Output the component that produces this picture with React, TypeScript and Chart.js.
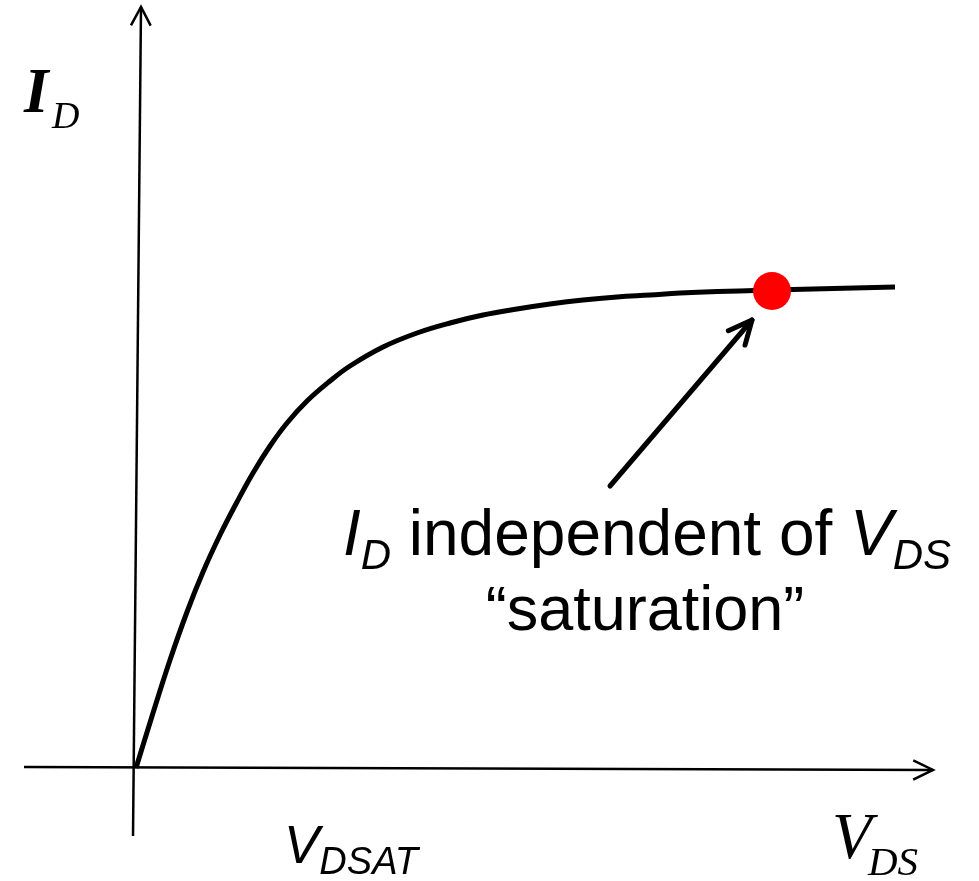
import React, { useEffect, useRef } from "react";
import { Chart, registerables } from "chart.js";

Chart.register(...registerables);

// Curve I_D(V_DS) (arbitrary units, origin at the axes crossing)
const vdsValues = [0, 0.17, 0.34, 0.51, 0.67, 0.84, 1.01, 1.17, 1.34, 1.51, 1.71, 1.94, 2.14, 2.47, 2.81, 3.14, 3.47, 3.81, 4.14, 4.47, 4.81, 5.14, 5.44, 6.36, 7.59];
const idValues = [0, 0.55, 1.08, 1.56, 1.96, 2.33, 2.66, 2.95, 3.22, 3.45, 3.67, 3.87, 4.02, 4.21, 4.35, 4.45, 4.53, 4.59, 4.64, 4.68, 4.71, 4.73, 4.75, 4.78, 4.81];

// Highlighted saturation point
const satVds = [6.36];
const satId = [4.77];

// Annotation arrow (from, to) in data units
const arrowVds = [4.74, 6.16];
const arrowId = [2.82, 4.48];

// Axis line ends in data units
const xAxisVds = [-1.12, 7.97];
const xAxisId = [0.01, -0.02];
const yAxisVds = [-0.03, 0.05];
const yAxisId = [-0.68, 7.61];

// Visible ranges
const vdsRange = [-1.36, 8.43];
const idRange = [-1.13, 7.68];

// Texts
const yLabel = ["I", "D"];
const xLabel = ["V", "DS"];
const satLabel = ["V", "DSAT"];
const noteLine1 = ["I", "D", " independent of ", "V", "DS"];
const noteLine2 = ["\u201Csaturation\u201D"];

const SANS = "'Liberation Sans', Arial, sans-serif";
const SERIF = "'Liberation Serif', 'Times New Roman', serif";

type Run = { t: string; f: string; dy?: number };

function runsWidth(ctx: CanvasRenderingContext2D, runs: Run[]) {
  let w = 0;
  for (const r of runs) {
    ctx.font = r.f;
    w += ctx.measureText(r.t).width;
  }
  return w;
}

function drawRuns(ctx: CanvasRenderingContext2D, runs: Run[], x: number, y: number) {
  let cx = x;
  for (const r of runs) {
    ctx.font = r.f;
    ctx.fillText(r.t, cx, y + (r.dy || 0));
    cx += ctx.measureText(r.t).width;
  }
}

function chevron(ctx: CanvasRenderingContext2D, tx: number, ty: number, fx: number, fy: number, len: number, angDeg: number) {
  const a = Math.atan2(fy - ty, fx - tx);
  const d = (angDeg * Math.PI) / 180;
  ctx.beginPath();
  ctx.moveTo(tx + len * Math.cos(a + d), ty + len * Math.sin(a + d));
  ctx.lineTo(tx, ty);
  ctx.lineTo(tx + len * Math.cos(a - d), ty + len * Math.sin(a - d));
  ctx.stroke();
}

const decorPlugin = {
  id: "decor",
  beforeDatasetsDraw(chart: any) {
    const ctx: CanvasRenderingContext2D = chart.ctx;
    const xs = chart.scales.x;
    const ys = chart.scales.y;
    ctx.save();
    ctx.strokeStyle = "#000";
    ctx.lineWidth = 2.5;
    ctx.lineCap = "butt";
    ctx.lineJoin = "miter";
    // x axis
    const x0 = xs.getPixelForValue(xAxisVds[0]);
    const y0 = ys.getPixelForValue(xAxisId[0]);
    const x1 = xs.getPixelForValue(xAxisVds[1]);
    const y1 = ys.getPixelForValue(xAxisId[1]);
    ctx.beginPath();
    ctx.moveTo(x0, y0);
    ctx.lineTo(x1, y1);
    ctx.stroke();
    chevron(ctx, x1, y1, x0, y0, 22, 26);
    // y axis
    const yx0 = xs.getPixelForValue(yAxisVds[0]);
    const yy0 = ys.getPixelForValue(yAxisId[0]);
    const yx1 = xs.getPixelForValue(yAxisVds[1]);
    const yy1 = ys.getPixelForValue(yAxisId[1]);
    ctx.beginPath();
    ctx.moveTo(yx0, yy0);
    ctx.lineTo(yx1, yy1);
    ctx.stroke();
    chevron(ctx, yx1, yy1, yx0, yy0, 21, 28);
    ctx.restore();
  },
  afterDatasetsDraw(chart: any) {
    const ctx: CanvasRenderingContext2D = chart.ctx;
    const xs = chart.scales.x;
    const ys = chart.scales.y;
    ctx.save();
    // annotation arrow
    const ax0 = xs.getPixelForValue(arrowVds[0]);
    const ay0 = ys.getPixelForValue(arrowId[0]);
    const ax1 = xs.getPixelForValue(arrowVds[1]);
    const ay1 = ys.getPixelForValue(arrowId[1]);
    ctx.strokeStyle = "#000";
    ctx.lineWidth = 5;
    ctx.lineCap = "round";
    ctx.lineJoin = "round";
    ctx.beginPath();
    ctx.moveTo(ax0, ay0);
    ctx.lineTo(ax1, ay1);
    ctx.stroke();
    chevron(ctx, ax1, ay1, ax0, ay0, 26, 25);

    ctx.fillStyle = "#000";
    ctx.textBaseline = "alphabetic";
    ctx.textAlign = "left";

    // I_D axis label (serif)
    ctx.font = `italic bold 63px ${SERIF}`;
    ctx.fillText(yLabel[0], 24, 112);
    ctx.font = `italic 38px ${SERIF}`;
    ctx.fillText(yLabel[1], 52, 128);

    // V_DS axis label (serif)
    ctx.font = `italic 65px ${SERIF}`;
    ctx.fillText(xLabel[0], 832, 858);
    ctx.font = `italic 41px ${SERIF}`;
    ctx.fillText(xLabel[1], 868, 875);

    // V_DSAT label
    drawRuns(
      ctx,
      [
        { t: satLabel[0], f: `italic 53px ${SANS}` },
        { t: satLabel[1], f: `italic 38px ${SANS}`, dy: 11 },
      ],
      284,
      863
    );

    // annotation text
    const l1: Run[] = [
      { t: noteLine1[0], f: `italic 64px ${SANS}` },
      { t: noteLine1[1], f: `italic 42px ${SANS}`, dy: 14 },
      { t: noteLine1[2], f: `64px ${SANS}` },
      { t: noteLine1[3], f: `italic 64px ${SANS}` },
      { t: noteLine1[4], f: `italic 42px ${SANS}`, dy: 14 },
    ];
    const w1 = runsWidth(ctx, l1);
    drawRuns(ctx, l1, 647 - w1 / 2, 555);
    const l2: Run[] = [{ t: noteLine2[0], f: `63px ${SANS}` }];
    const w2 = runsWidth(ctx, l2);
    drawRuns(ctx, l2, 645 - w2 / 2, 630);
    ctx.restore();
  },
};

export default function App() {
  const ref = useRef<HTMLCanvasElement | null>(null);
  useEffect(() => {
    if (!ref.current) return;
    const chart = new Chart(ref.current, {
      type: "scatter",
      data: {
        datasets: [
          {
            label: "saturation point",
            data: satVds.map((v, i) => ({ x: v, y: satId[i] })),
            pointRadius: 19,
            pointBackgroundColor: "#ff0000",
            pointBorderWidth: 0,
            borderWidth: 0,
            showLine: false,
            order: 0,
          },
          {
            label: "I_D",
            data: vdsValues.map((v, i) => ({ x: v, y: idValues[i] })),
            showLine: true,
            borderColor: "#000",
            borderWidth: 5,
            pointRadius: 0,
            tension: 0.4,
            fill: false,
            order: 1,
          },
        ],
      },
      options: {
        animation: false,
        responsive: false,
        events: [],
        layout: { padding: 0, autoPadding: false },
        plugins: { legend: { display: false }, tooltip: { enabled: false } },
        scales: {
          x: { type: "linear", min: vdsRange[0], max: vdsRange[1], display: false },
          y: { type: "linear", min: idRange[0], max: idRange[1], display: false },
        },
      },
      plugins: [decorPlugin],
    } as any);
    return () => chart.destroy();
  }, []);
  return (
    <div style={{ position: "absolute", left: 0, top: 0, width: 979, height: 881, background: "#fff" }}>
      <canvas ref={ref} width={979} height={881} style={{ display: "block" }} />
    </div>
  );
}
